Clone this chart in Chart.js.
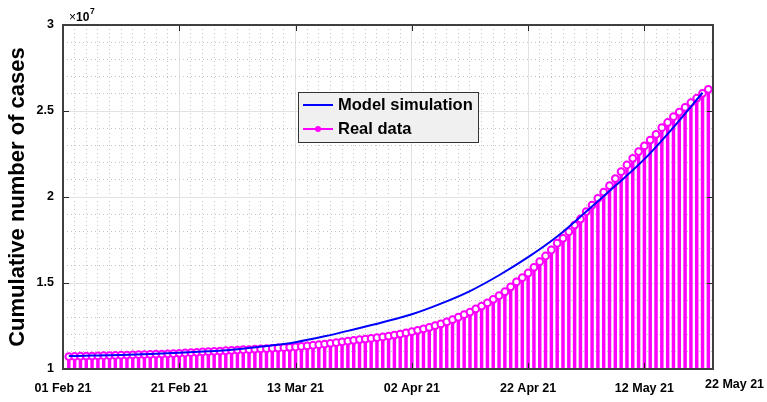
<!DOCTYPE html>
<html>
<head>
<meta charset="utf-8">
<script src="https://cdn.jsdelivr.net/npm/chart.js@4.4.1/dist/chart.umd.min.js"></script>
<style>
  html, body { margin: 0; padding: 0; background: #fff; }
  #wrap { width: 767px; height: 402px; }
</style>
</head>
<body>
<div id="wrap"><canvas id="casesChart" width="767" height="402"></canvas></div>
<script>
// x = days since 01 Feb 21, y = cumulative cases in units of 10^7
const tickDays = [0, 20, 40, 60, 80, 100]
const tickLabels = ["01 Feb 21", "21 Feb 21", "13 Mar 21", "02 Apr 21", "22 Apr 21", "12 May 21", "22 May 21"]
const yTicks = [1, 1.5, 2, 2.5, 3]
const seriesNames = ["Model simulation", "Real data"]

// real data, one value per day starting 02 Feb 21
const firstRealDay = 1
const realData = [
  1.072, 1.073, 1.074, 1.075, 1.075, 1.076, 1.077, 1.078, 1.079, 1.080,
  1.081, 1.082, 1.083, 1.084, 1.085, 1.086, 1.087, 1.088, 1.089, 1.091,
  1.093, 1.095, 1.097, 1.099, 1.101, 1.103, 1.104, 1.106, 1.108, 1.110,
  1.112, 1.113, 1.115, 1.117, 1.118, 1.120, 1.122, 1.124, 1.126, 1.128,
  1.131, 1.134, 1.138, 1.141, 1.145, 1.149, 1.153, 1.158, 1.162, 1.167,
  1.171, 1.174, 1.178, 1.182, 1.186, 1.191, 1.197, 1.203, 1.210, 1.217,
  1.225, 1.233, 1.242, 1.252, 1.262, 1.274, 1.287, 1.301, 1.316, 1.331,
  1.349, 1.366, 1.384, 1.405, 1.426, 1.449, 1.478, 1.506, 1.531, 1.558,
  1.591, 1.624, 1.657, 1.692, 1.731, 1.760, 1.798, 1.837, 1.872, 1.915,
  1.953, 1.992, 2.028, 2.066, 2.107, 2.147, 2.186, 2.225, 2.264, 2.297,
  2.331, 2.364, 2.403, 2.433, 2.467, 2.494, 2.521, 2.548, 2.574, 2.603,
  2.626
]

// model simulation read at a few days, drawn as a smooth curve
const modelDays = [1, 5, 10, 15, 20, 25, 30, 35, 40, 45, 50, 55, 60, 65, 70, 75, 80, 85, 90, 95, 100, 105, 110]
const modelValues = [1.075, 1.078, 1.082, 1.087, 1.094, 1.103, 1.115, 1.134, 1.156, 1.19, 1.23, 1.272, 1.318,
  1.38, 1.453, 1.545, 1.65, 1.77, 1.915, 2.065, 2.22, 2.405, 2.606]

const xMax = 111.8
const FONT = "'Liberation Sans', Arial, Helvetica, sans-serif"
Chart.defaults.font.family = FONT

const realPoints = realData.map((v, i) => ({ x: firstRealDay + i, y: v }))
const modelPoints = modelDays.map((d, i) => ({ x: d, y: modelValues[i] }))

const isMajorX = v => Math.abs(v / 20 - Math.round(v / 20)) < 1e-6
const isMajorY = v => Math.abs(v * 2 - Math.round(v * 2)) < 1e-6

const boxPlugin = {
  id: "matlabBox",
  afterDraw(chart) {
    const { ctx, chartArea: a, scales } = chart
    ctx.save()

    // inward ticks on all four sides
    ctx.strokeStyle = "#262626"
    ctx.lineWidth = 1
    ctx.beginPath()
    tickDays.forEach(d => {
      const px = Math.round(scales.x.getPixelForValue(d)) + 0.5
      ctx.moveTo(px, a.bottom); ctx.lineTo(px, a.bottom - 6)
      ctx.moveTo(px, a.top); ctx.lineTo(px, a.top + 6)
    })
    yTicks.forEach(v => {
      const py = Math.round(scales.y.getPixelForValue(v)) + 0.5
      ctx.moveTo(a.left, py); ctx.lineTo(a.left + 6, py)
      ctx.moveTo(a.right, py); ctx.lineTo(a.right - 6, py)
    })
    ctx.stroke()

    // axes box
    ctx.strokeStyle = "#404040"
    ctx.lineWidth = 2
    ctx.strokeRect(a.left, a.top, a.right - a.left, a.bottom - a.top)

    // exponent label
    ctx.fillStyle = "#000"
    ctx.textBaseline = "alphabetic"
    ctx.textAlign = "left"
    ctx.font = "12px " + FONT
    ctx.fillText("\u00d7", a.left + 6, a.top - 4)
    ctx.font = "bold 12px " + FONT
    ctx.fillText("10", a.left + 13, a.top - 4)
    ctx.font = "bold 8.5px " + FONT
    ctx.fillText("7", a.left + 27, a.top - 11)

    // last date label sits past the axis end
    ctx.font = "bold 12.5px " + FONT
    ctx.textBaseline = "top"
    ctx.fillText(tickLabels[tickLabels.length - 1], a.right - 8, a.bottom + 9)

    // legend
    const lx = a.left + 235, ly = a.top + 67, lw = 180, lh = 50
    ctx.fillStyle = "#f0f0f0"
    ctx.fillRect(lx, ly, lw, lh)
    ctx.strokeStyle = "#333"
    ctx.lineWidth = 1
    ctx.strokeRect(lx + 0.5, ly + 0.5, lw, lh)

    ctx.lineWidth = 2
    ctx.strokeStyle = "#0000ff"
    ctx.beginPath(); ctx.moveTo(lx + 5, ly + 13); ctx.lineTo(lx + 35, ly + 13); ctx.stroke()
    ctx.strokeStyle = "#ff00ff"
    ctx.beginPath(); ctx.moveTo(lx + 5, ly + 37); ctx.lineTo(lx + 35, ly + 37); ctx.stroke()
    ctx.fillStyle = "#ff00ff"
    ctx.beginPath(); ctx.arc(lx + 20, ly + 37, 3, 0, Math.PI * 2); ctx.fill()

    ctx.fillStyle = "#000"
    ctx.font = "bold 16.5px " + FONT
    ctx.textBaseline = "middle"
    ctx.fillText(seriesNames[0], lx + 40, ly + 13)
    ctx.fillText(seriesNames[1], lx + 40, ly + 37)
    ctx.restore()
  }
}

const ctx = document.getElementById("casesChart")

new Chart(ctx, {
  type: "line",
  data: {
    datasets: [
      {
        label: seriesNames[0],
        data: modelPoints,
        borderColor: "#0000ff",
        borderWidth: 2,
        pointRadius: 0,
        cubicInterpolationMode: "monotone",
        order: 1,
      },
      {
        label: seriesNames[1],
        data: realPoints,
        showLine: false,
        pointRadius: 3.4,
        pointBorderWidth: 2,
        pointBorderColor: "#ff00ff",
        pointBackgroundColor: "#ffffff",
        order: 2,
      },
      {
        type: "bar",
        label: "stems",
        data: realPoints,
        backgroundColor: "#ff00ff",
        borderWidth: 0,
        barThickness: 2.8,
        base: 1,
        order: 3,
      },
    ],
  },
  options: {
    responsive: false,
    maintainAspectRatio: false,
    devicePixelRatio: 1,
    animation: false,
    layout: { padding: { top: 25, right: 54, left: 0, bottom: 0 } },
    plugins: {
      legend: { display: false },
      tooltip: { enabled: false },
    },
    scales: {
      x: {
        type: "linear",
        min: 0,
        max: xMax,
        offset: false,
        afterFit: s => { s.height = 33 },
        afterBuildTicks: s => { s.ticks = tickDays.map(v => ({ value: v })) },
        ticks: {
          autoSkip: false,
          maxRotation: 0,
          padding: 12,
          color: "#000",
          font: { size: 12.5, weight: "bold" },
          callback: (v, i) => tickLabels[i],
        },
        grid: { color: "#e2e2e2", lineWidth: 1, drawTicks: false, offset: false },
        border: { display: false },
      },
      xMinor: {
        type: "linear",
        position: "bottom",
        min: 0,
        max: xMax,
        afterFit: s => { s.height = 0 },
        ticks: { display: false, stepSize: 2 },
        grid: {
          drawTicks: false,
          lineWidth: 1,
          color: c => (c.tick && isMajorX(c.tick.value) ? "rgba(0,0,0,0)" : "#c4c4c4"),
        },
        border: { display: false, dash: [1, 3] },
      },
      y: {
        min: 1,
        max: 3,
        afterFit: s => { s.width = 63 },
        afterBuildTicks: s => { s.ticks = yTicks.map(v => ({ value: v })) },
        ticks: {
          padding: 9,
          color: "#000",
          font: { size: 12.5, weight: "bold" },
          callback: v => String(v),
        },
        title: {
          display: true,
          text: "Cumulative number of cases",
          color: "#000",
          font: { size: 22, weight: "bold" },
          padding: { top: 5, bottom: 0 },
        },
        grid: { color: "#e2e2e2", lineWidth: 1, drawTicks: false },
        border: { display: false },
      },
      yMinor: {
        type: "linear",
        position: "left",
        min: 1,
        max: 3,
        afterFit: s => { s.width = 0 },
        ticks: { display: false, stepSize: 0.1 },
        grid: {
          drawTicks: false,
          lineWidth: 1,
          color: c => (c.tick && isMajorY(c.tick.value) ? "rgba(0,0,0,0)" : "#c4c4c4"),
        },
        border: { display: false, dash: [1, 3] },
      },
    },
  },
  plugins: [boxPlugin],
});
</script>
</body>
</html>
